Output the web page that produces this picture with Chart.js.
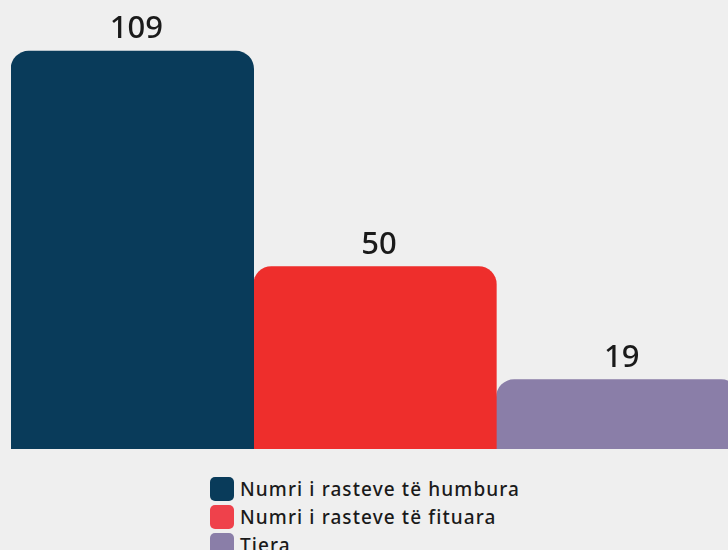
<!DOCTYPE html>
<html>
<head>
<meta charset="utf-8">
<script src="https://cdn.jsdelivr.net/npm/chart.js@4/dist/chart.umd.min.js"></script>
<style>
    html, body { margin: 0; padding: 0; background: #efefef; overflow: hidden; width: 728px; height: 550px; }
    #wrap { position: absolute; left: 0; top: 0; width: 739px; height: 460px; }
    #legend { position: absolute; left: 210px; top: 475px; font-family: "Noto Sans", sans-serif; font-size: 19px; font-weight: 500; letter-spacing: 1.1px; color: #1a1a1a; }
    #legend div { display: flex; align-items: center; height: 28px; }
    #legend span.box { display: inline-block; width: 24px; height: 24px; border-radius: 5px; margin-right: 6px; }
</style>
</head>
<body>
<div id="wrap"><canvas id="myChart"></canvas></div>
<div id="legend"></div>
<script>
const categories = ['Numri i rasteve të humbura', 'Numri i rasteve të fituara', 'Tjera'];
const values = [109, 50, 19];
const barColors = ['#093b5a', '#ee2e2c', '#8a7ea8'];
const legendColors = ['#093b5a', '#ef414b', '#8a7ea8'];

const ctx = document.getElementById('myChart').getContext('2d');

// one dataset per bar so the legend lists each one
const datasets = categories.map((name, i) => ({
    label: name,
    data: values.map((v, j) => (j === i ? v : null)),
    backgroundColor: barColors[i],
    borderRadius: 18,
    borderSkipped: 'bottom',
    categoryPercentage: 1,
    barPercentage: 1,
    skipNull: true
}));

const valueLabels = {
    id: 'valueLabels',
    afterDatasetsDraw(chart) {
        const c = chart.ctx;
        c.save();
        c.font = '500 31px "Noto Sans", sans-serif';
        c.fillStyle = '#1a1a1a';
        c.textAlign = 'center';
        c.textBaseline = 'alphabetic';
        chart.data.datasets.forEach((ds, i) => {
            const meta = chart.getDatasetMeta(i);
            meta.data.forEach((bar, j) => {
                if (ds.data[j] == null) return;
                c.fillText(ds.data[j], bar.x + 4, bar.y - 13);
            });
        });
        c.restore();
    }
};

const chart = new Chart(ctx, {
    type: 'bar',
    data: { labels: categories.map((_, i) => i), datasets: datasets },
    options: {
        responsive: true,
        maintainAspectRatio: false,
        animation: false,
        layout: { padding: { left: 11, top: 11, bottom: 11, right: 0 } },
        plugins: {
            legend: { display: false },
            tooltip: { enabled: false }
        },
        scales: {
            x: { display: false },
            y: { display: false, min: 0, max: 120 }
        }
    },
    plugins: [valueLabels]
});

// html legend, vertical list
const legendEl = document.getElementById('legend');
chart.data.datasets.forEach((ds, i) => {
    const row = document.createElement('div');
    const box = document.createElement('span');
    box.className = 'box';
    box.style.background = legendColors[i];
    row.appendChild(box);
    row.appendChild(document.createTextNode(ds.label));
    legendEl.appendChild(row);
});
</script>
</body>
</html>
